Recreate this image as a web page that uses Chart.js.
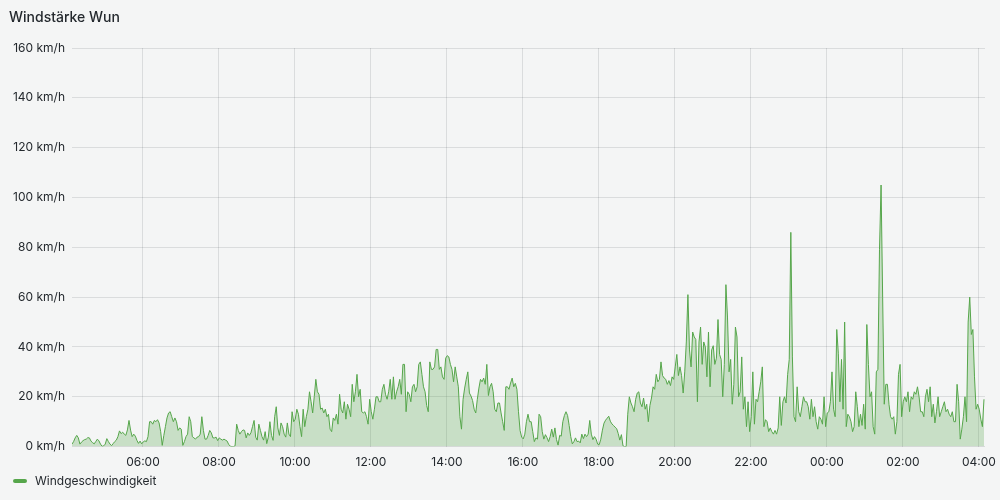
<!DOCTYPE html>
<html>
<head>
<meta charset="utf-8">
<title>Windstärke Wun</title>
<script src="https://cdn.jsdelivr.net/npm/chart.js@4/dist/chart.umd.min.js"></script>
<style>
  html, body { margin: 0; padding: 0; background: #f4f5f5; }
  #wrap { position: relative; width: 1000px; height: 500px; font-family: Inter, sans-serif; color: #24292e; }
  #title { position: absolute; left: 9px; top: 10px; font-size: 14px; line-height: 14px; font-weight: 500; }
  #legend { position: absolute; left: 13px; top: 475px; font-size: 12px; line-height: 12px; display: flex; align-items: center; }
  #legend .mark { width: 14px; height: 4px; border-radius: 2px; background: #56a64b; margin-right: 8px; }
  canvas { position: absolute; left: 0; top: 0; }
</style>
</head>
<body>
<div id="wrap">
  <canvas id="chart" width="1000" height="500"></canvas>
  <div id="title">Windstärke Wun</div>
  <div id="legend"><span class="mark"></span><span>Windgeschwindigkeit</span></div>
</div>
<script>
// Messreihe: alle 2,5 Minuten ab 04:08 (Stunden seit Mitternacht)
const startHour = 4 + 8 / 60;
const stepHours = 2.5 / 60;
const windSpeed = [
  1, 2, 3.5, 4.5, 3.5, 1, 1.8, 2.4, 2.8, 3,
  3.6, 3.5, 2.2, 1.6, 1.1, 2, 3, 2.3, 1, 0.1,
  0.3, 1, 3.2, 2, 1, 0.4, 1.2, 2, 2.6, 4,
  6.3, 5.2, 5.8, 5, 4.5, 6.7, 10.5, 6.6, 4, 5,
  4.2, 2.5, 1.3, 2.2, 1.1, 1.9, 2.3, 2, 4, 10,
  10, 9, 10.5, 10, 10.8, 9.5, 6, 0.5, 4.5, 8,
  11.5, 13.5, 14, 12, 10, 11.5, 10, 6.5, 7.5, 7,
  0.5, 2, 4, 5, 12, 10, 4, 3.5, 3, 3.8,
  4, 5, 12, 6.5, 3, 3, 4.5, 6.5, 5.5, 3.5,
  3.5, 3.8, 2.4, 3.5, 3, 2.6, 3, 2.6, 2.2, 0.8,
  0.2, 0, 0, 0.3, 9, 6.5, 5, 6, 6.7, 6.5,
  3.5, 5.5, 4.5, 5.5, 8, 10.5, 3.8, 2.6, 9, 6.5,
  4, 2.6, 6, 1.2, 3.8, 10, 4.5, 2.5, 12, 16,
  7.5, 4.5, 9.5, 8, 5, 3.8, 9.5, 5, 4, 14,
  10, 11, 15, 13, 8, 4, 15, 8, 12, 15,
  22, 18, 13.5, 20, 27, 22, 21, 15, 15.5, 13.5,
  15, 12, 13, 7, 6, 11.5, 10.5, 13, 9, 21,
  15, 13.5, 18, 11, 17, 15, 12, 25, 18, 22,
  29, 20, 23, 14, 13.5, 14, 12, 9, 19, 14,
  11, 15, 20, 20, 18, 18, 23, 25, 21, 19,
  22, 27, 19, 28, 19, 22, 24, 27, 21, 33,
  33, 14, 22, 21, 18, 24, 25, 22, 24, 33,
  34, 29, 24, 22, 16.5, 14, 34, 31, 31, 32,
  39, 39, 31, 32, 28, 27, 35.5, 36.5, 36, 33,
  31, 26, 32, 28, 24, 12, 7, 19, 23.5, 27,
  30, 21.5, 20.3, 18.5, 15, 13.5, 19, 23.5, 27, 26,
  27.5, 25, 33, 20.5, 24, 25.4, 22, 15, 14, 17.5,
  17.5, 13.5, 10, 6.5, 24, 24, 23, 25.5, 27.5, 24,
  25.4, 23, 14, 6.5, 3.8, 3.1, 5, 10, 13, 10,
  10, 6, 2, 3.5, 3, 13, 12, 6, 3, 4.8,
  3.6, 2, 4, 7, 3.8, 7.5, 2.8, 0.6, 4.5, 4.2,
  10, 12.5, 14, 12.5, 8.5, 4, 1.1, 2, 3.5, 2,
  2.2, 1.5, 5, 3.2, 5, 4, 5, 10.5, 5, 2.8,
  4, 3, 1, 0.8, 3, 6.6, 9.4, 10.6, 11.4, 12.2,
  10.2, 9.1, 8.5, 7.8, 7.2, 5.2, 2.6, 4.8, 0.3, 0,
  0, 13, 20, 17.5, 16, 14, 19, 21.5, 22, 17.5,
  16, 19.5, 15, 17, 10, 16.5, 19.5, 24, 23, 29,
  26, 27, 34, 28.5, 27.5, 27, 25, 26.5, 24.5, 28,
  27, 32, 37, 28.5, 32, 28.5, 21.5, 30, 42, 61,
  38.8, 32, 46, 44, 43, 18, 42, 48, 33, 42,
  40, 28, 46, 24, 38.8, 40.5, 33, 35.5, 51, 37,
  35, 20, 33, 65, 52, 30, 35, 17, 25, 48,
  44, 20, 22, 36, 15, 20, 8, 18, 6, 12,
  30, 9, 19, 18, 22, 26, 32, 8, 10.8, 10,
  6, 7.5, 6, 5, 6.5, 5, 7.5, 20, 8.5, 18,
  20, 17.5, 29, 35, 86, 36, 12, 10, 24, 14,
  12, 16, 20, 18, 18, 16, 11, 19, 12, 16,
  10, 7, 12, 11, 9, 20, 8, 13.5, 14, 18,
  30, 15, 12, 47, 37.5, 18, 35, 15, 50, 8,
  13, 12, 10, 6, 8, 22, 16, 8, 13, 8.5,
  17, 7, 49, 33, 20, 22, 8, 5, 30, 31,
  79, 105, 60, 17, 25, 25, 17, 12, 11, 12,
  5, 10, 29, 33, 12, 18, 20, 18, 22, 14,
  20, 19, 22, 21, 24, 20, 14, 14, 12, 20,
  23, 18, 24, 12, 17, 9.5, 14, 20, 12, 14,
  16, 18, 14, 15, 13, 12, 14, 10, 10, 25,
  18, 3, 7, 12, 20, 10, 50, 60, 45, 47,
  28, 15, 17, 15, 11, 8, 19
];
const tickHours = [6, 8, 10, 12, 14, 16, 18, 20, 22, 24, 26, 28];
const tickLabels = ['06:00', '08:00', '10:00', '12:00', '14:00', '16:00', '18:00', '20:00', '22:00', '00:00', '02:00', '04:00'];
const yMax = 160;
const yStep = 20;

const textColor = '#24292e';
const gridColor = 'rgba(36,41,46,0.12)';
Chart.defaults.font.family = 'Inter';
Chart.defaults.font.size = 12;
Chart.defaults.color = textColor;

const points = windSpeed.map((v, i) => ({ x: startHour + i * stepHours, y: v }));

new Chart(document.getElementById('chart'), {
  type: 'line',
  data: {
    datasets: [{
      label: 'Windgeschwindigkeit',
      data: points,
      borderColor: '#56a64b',
      backgroundColor: 'rgba(86,166,75,0.28)',
      borderWidth: 1,
      pointRadius: 0,
      tension: 0,
      fill: 'origin'
    }]
  },
  options: {
    responsive: false,
    animation: false,
    devicePixelRatio: 1,
    layout: { padding: { top: 48, right: 15, bottom: 21, left: 0 } },
    plugins: {
      legend: { display: false },
      title: { display: false },
      tooltip: { enabled: false }
    },
    scales: {
      x: {
        type: 'linear',
        min: startHour,
        max: 28.16,
        border: { display: false },
        grid: { color: gridColor, drawTicks: false },
        afterBuildTicks: s => { s.ticks = tickHours.map(h => ({ value: h })); },
        afterFit: s => { s.paddingLeft = 0; s.paddingRight = 0; },
        ticks: {
          padding: 9,
          maxRotation: 0,
          autoSkip: false,
          callback: (v, i) => tickLabels[i]
        }
      },
      y: {
        min: 0,
        max: yMax,
        border: { display: false },
        grid: { color: gridColor, drawTicks: false },
        afterFit: s => { s.width = 72; },
        ticks: {
          stepSize: yStep,
          padding: 7,
          callback: v => v + ' km/h'
        }
      }
    }
  }
});
</script>
</body>
</html>
